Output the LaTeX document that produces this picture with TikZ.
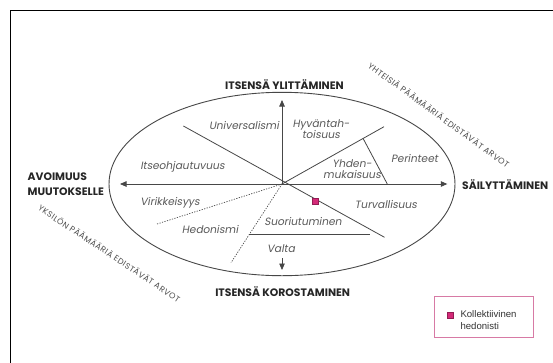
\documentclass[tikz,border=0pt]{standalone}
\usepackage{fontspec}
\setmainfont{Poppins}
\newfontfamily\gothic{Poppins}
\newfontfamily\gothicit[FakeSlant=0.18]{Poppins}
\newfontfamily\goalfont[LetterSpace=6]{Poppins}
\newfontfamily\helv{Liberation Sans}
\usetikzlibrary{arrows.meta,calc}
\definecolor{txtgray}{HTML}{5A5A5A}
\definecolor{linegray}{HTML}{474747}
\definecolor{legpink}{HTML}{D77AA5}
\definecolor{markpink}{HTML}{D42A78}
\begin{document}
\begin{tikzpicture}[x=1pt,y=-1pt,
  ell/.style={draw=linegray,line width=0.9pt},
  axis/.style={draw=linegray,line width=0.8pt,-{Triangle[length=6.5pt,width=5.5pt]}},
  seg/.style={draw=linegray,line width=0.8pt},
  dotseg/.style={draw=linegray,line width=0.7pt,dash pattern=on 1.2pt off 1.4pt},
  val/.style={text=txtgray,font=\gothicit\fontsize{10.6}{11}\selectfont,inner sep=0pt,align=center},
  dim/.style={text=black!85,font=\gothic\bfseries\fontsize{10.8}{15}\selectfont,inner sep=0pt,align=left},
  goal/.style={text=txtgray!85!black,inner sep=0pt},
  leg/.style={text=black!80,font=\helv\fontsize{9.6}{11.8}\selectfont,inner sep=0pt,align=left,anchor=west}
]
\useasboundingbox (0,0) rectangle (553,362);
\fill[white] (0,0) rectangle (553,362);
% frame
\draw[black,line width=0.9pt] (10,363) -- (10,10.7) -- (554,10.7);
% ellipse and axes
\coordinate (C) at (282,184);
\draw[ell] (C) ellipse [x radius=173, y radius=91.7];
\coordinate (L) at (120,184);
\coordinate (R) at (447.3,184);
\coordinate (U) at (282,100);
\coordinate (D1) at (282,258);
\coordinate (D2) at (282,270);
\draw[axis] (C) -- (L);
\draw[axis] (C) -- (R);
\draw[axis] (C) -- (U);
\draw[axis] (D1) -- (D2);
% sector lines
\coordinate (UL) at (183.4,126);
\coordinate (LR) at (384.5,237.3);
\coordinate (UR) at (384,126.7);
\coordinate (URm) at ($(C)!0.795!(UR)$);
\coordinate (Rm) at (387.3,184);
\coordinate (Hs) at (248.7,234.3);
\coordinate (He) at (370.4,234.3);
\coordinate (DL1) at (157,224);
\coordinate (DL2) at (231,262.7);
\draw[seg] (UL) -- (LR);
\draw[seg] (C) -- (UR);
\draw[seg] (URm) -- (Rm);
\draw[seg] (Hs) -- (He);
\draw[dotseg] (C) -- (DL1);
\draw[dotseg] (C) -- (DL2);
% values
\node[val] (univ) at (244,126) {Universalismi};
\node[val,anchor=north] (hyv) at (321,119.5) {Hyväntah-\\toisuus};
\node[val] (itse) at (182.5,167.3) {Itseohjautuvuus};
\node[val] (per) at (414.5,158.3) {Perinteet};
\node[val,anchor=north] (yhd) at (352,159) {Yhden-\\mukaisuus};
\node[val] (vir) at (170,202.7) {Virikkeisyys};
\node[val] (turv) at (386,205) {Turvallisuus};
\node[val] (hed) at (210,230) {Hedonismi};
\node[val] (suor) at (303,222) {Suoriutuminen};
\node[val] (valta) at (281,248.3) {Valta};
% dimensions
\node[dim] (ylit) at (284.5,85) {ITSENSÄ YLITTÄMINEN};
\node[dim] (koro) at (282.7,291.7) {ITSENSÄ KOROSTAMINEN};
\node[dim,anchor=west] (avo) at (27.5,184.2) {AVOIMUUS\\MUUTOKSELLE};
\node[dim,anchor=west] (sail) at (462,184.3) {SÄILYTTÄMINEN};
% goals
\node[goal,rotate=-36] (yht) at (439,115) {\resizebox{172pt}{!}{\goalfont\fontsize{7}{8}\selectfont YHTEISIÄ PÄÄMÄÄRIÄ EDISTÄVÄT ARVOT}};
\node[goal,rotate=-33.5] (yks) at (109.5,253.3) {\resizebox{168pt}{!}{\goalfont\fontsize{7}{8}\selectfont YKSILÖN PÄÄMÄÄRIÄ EDISTÄVÄT ARVOT}};
% marker
\node[draw=markpink!70!black,fill=markpink,minimum size=6.5pt,inner sep=0pt,line width=0.4pt] (mk) at (315,201.3) {};
% legend
\draw[legpink,line width=0.9pt] (434.6,296.7) rectangle (533.7,337.3);
\node[draw=markpink!70!black,fill=markpink,minimum size=5.5pt,inner sep=0pt,line width=0.4pt] (lmk) at (450.3,315) {};
\node[leg] (legt) at (460.3,320) {Kollektiivinen\\hedonisti};
\end{tikzpicture}
\end{document}
